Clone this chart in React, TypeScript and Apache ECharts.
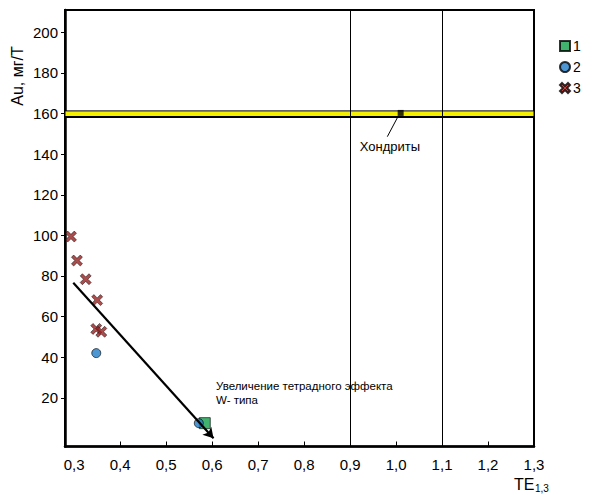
import React, { useEffect, useRef } from 'react';
import * as echarts from 'echarts';

// Axis ticks / labels
const xTickLabels = [0.3, 0.4, 0.5, 0.6, 0.7, 0.8, 0.9, 1.0, 1.1, 1.2, 1.3];
const xTickMarks = [0.4, 0.5, 0.6, 0.7, 0.8, 1.0, 1.2];
const yTickLabels = [20, 40, 60, 80, 100, 120, 140, 160, 180, 200];

// Series values [TE1,3, Au]
const group1 = [[0.584, 7.5]];
const group2 = [[0.348, 42.0], [0.571, 7.5]];
const group3 = [
  [0.293, 99.4],
  [0.306, 87.6],
  [0.325, 78.4],
  [0.35, 68.1],
  [0.348, 53.9],
  [0.359, 52.5],
];
const chondrite = [[1.01, 160.3]];
const chondriteBand = [158.3, 161.3];
const referenceLines = [0.9, 1.1];
const trendStart = [0.298, 76.7];
const trendEnd = [0.603, 0.1];
const chondriteLeader = [[1.003, 158.0], [0.981, 148.6]];

const FONT = '"Liberation Sans", Arial, sans-serif';
const crossPath =
  'path://M2,0 L5,3 L8,0 L10,2 L7,5 L10,8 L8,10 L5,7 L2,10 L0,8 L3,5 L0,2 Z';

export default function App() {
  const ref = useRef<HTMLDivElement>(null);
  useEffect(() => {
    document.body.style.margin = '0';
    if (!ref.current) return;
    const chart = echarts.init(ref.current, undefined, { renderer: 'svg' });
    const fmt = (v: number) => v.toFixed(1).replace('.', ',');
    chart.setOption({
      animation: false,
      backgroundColor: '#fff',
      grid: {
        left: 65,
        top: 10,
        right: 58,
        bottom: 48.5,
        show: true,
        borderColor: '#000',
        borderWidth: 2,
      },
      legend: {
        data: [
          { name: '1' },
          { name: '2' },
          { name: '3', itemStyle: { color: '#e3231c' } },
        ],
        orient: 'vertical',
        left: 554,
        top: 34,
        itemWidth: 10,
        itemHeight: 10,
        itemGap: 7,
        selectedMode: false,
        textStyle: { fontFamily: FONT, fontSize: 14, color: '#000', padding: [0, 0, 0, -2] },
      },
      xAxis: {
        type: 'value',
        min: 0.28,
        max: 1.3,
        splitLine: { show: false },
        axisLine: { onZero: false, lineStyle: { color: '#000', width: 2.5 } },
        axisTick: {
          inside: true,
          length: 5,
          customValues: xTickMarks,
          lineStyle: { color: '#000', width: 1 },
        },
        axisLabel: {
          customValues: xTickLabels,
          formatter: fmt,
          margin: 10,
          fontFamily: FONT,
          fontSize: 15,
          color: '#000',
        },
      },
      yAxis: {
        type: 'value',
        min: -4,
        max: 211,
        splitLine: { show: false },
        axisLine: { onZero: false, lineStyle: { color: '#000', width: 2.5 } },
        axisTick: {
          inside: false,
          length: 4,
          customValues: yTickLabels,
          lineStyle: { color: '#000', width: 1 },
        },
        axisLabel: {
          customValues: yTickLabels,
          margin: 7,
          fontFamily: FONT,
          fontSize: 15,
          color: '#000',
        },
      },
      graphic: [
        {
          type: 'text',
          x: 17,
          y: 76,
          rotation: Math.PI / 2,
          style: {
            text: 'Au, мг/Т',
            fontFamily: FONT,
            fontSize: 16,
            fill: '#000',
            align: 'center',
            verticalAlign: 'middle',
          },
        },
        {
          type: 'text',
          x: 514,
          y: 484,
          style: {
            text: 'TE',
            fontFamily: FONT,
            fontSize: 16,
            fill: '#000',
            align: 'left',
            verticalAlign: 'middle',
          },
        },
        {
          type: 'text',
          x: 535,
          y: 488,
          style: {
            text: '1,3',
            fontFamily: FONT,
            fontSize: 10,
            fill: '#000',
            align: 'left',
            verticalAlign: 'middle',
          },
        },
        {
          type: 'text',
          x: 390,
          y: 146,
          style: {
            text: 'Хондриты',
            fontFamily: FONT,
            fontSize: 13,
            fill: '#000',
            align: 'center',
            verticalAlign: 'middle',
          },
        },
        {
          type: 'text',
          x: 216,
          y: 393,
          style: {
            text: 'Увеличение тетрадного эффекта\nW- типа',
            fontFamily: FONT,
            fontSize: 11.5,
            lineHeight: 14,
            fill: '#000',
            align: 'left',
            verticalAlign: 'middle',
          },
        },
      ],
      series: [
        {
          name: 'chondrite',
          type: 'scatter',
          data: chondrite,
          symbol: 'rect',
          symbolSize: 6,
          itemStyle: { color: '#000' },
          silent: true,
          z: 3,
          markArea: {
            silent: true,
            itemStyle: { color: '#f4ef00', borderColor: '#000', borderWidth: 1 },
            data: [[{ yAxis: chondriteBand[0] }, { yAxis: chondriteBand[1] }]],
          },
          markLine: {
            silent: true,
            symbol: ['none', 'none'],
            label: { show: false },
            lineStyle: { color: '#000', width: 1, type: 'solid' },
            data: [
              ...referenceLines.map((v) => ({ xAxis: v })),
              { yAxis: chondriteBand[0], lineStyle: { width: 2, color: '#000', type: 'solid' } },
            ],
          },
        },
        {
          name: 'leader',
          type: 'line',
          data: chondriteLeader,
          symbol: 'none',
          silent: true,
          lineStyle: { color: '#000', width: 1 },
          z: 3,
        },
        {
          name: '1',
          type: 'scatter',
          data: group1,
          symbol: 'rect',
          symbolSize: 11,
          itemStyle: { color: '#12a04a', borderColor: '#000', borderWidth: 0.8 },
          z: 4,
        },
        {
          name: '2',
          type: 'scatter',
          data: group2,
          symbol: 'circle',
          symbolSize: 9,
          itemStyle: { color: '#1f7cc9', borderColor: '#000', borderWidth: 0.8 },
          z: 4,
        },
        {
          name: '3',
          type: 'scatter',
          data: group3,
          symbol: crossPath,
          symbolSize: 11,
          itemStyle: { color: '#962020', borderColor: '#000', borderWidth: 0.6 },
          z: 4,
        },
        {
          name: 'trend',
          type: 'scatter',
          data: [],
          z: 6,
          markLine: {
            silent: true,
            symbol: ['none', 'arrow'],
            symbolSize: [9, 10],
            label: { show: false },
            lineStyle: { color: '#000', width: 2.2, type: 'solid' },
            data: [[{ coord: trendStart }, { coord: trendEnd }]],
          },
        },
      ],
    });
    return () => chart.dispose();
  }, []);
  return <div ref={ref} style={{ width: 592, height: 495 }} />;
}
